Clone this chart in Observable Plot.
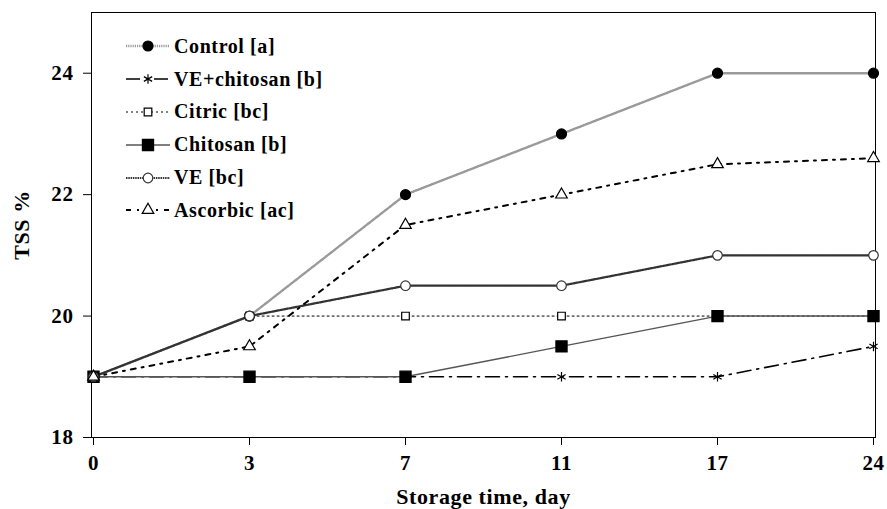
<!DOCTYPE html>
<html><head><meta charset="utf-8">
<script src="https://cdn.jsdelivr.net/npm/d3@7"></script>
<script src="https://cdn.jsdelivr.net/npm/@observablehq/plot@0.6"></script>
<style>
body{margin:0;background:#fff;}
#wrap{position:relative;width:887px;height:509px;font-family:"Liberation Serif","Times New Roman",serif;font-weight:bold;}
#legend{position:absolute;left:125px;top:30px;}
.row{height:32.8px;display:flex;align-items:center;font-size:20px;letter-spacing:0.6px;color:#000;}
.row svg{margin-right:3px;}
</style></head>
<body><div id="wrap"><div id="chart"></div><div id="legend"></div></div>
<script>
const days = ["0","3","7","11","17","24"];
const seriesNames = ["Control [a]","VE+chitosan [b]","Citric [bc]","Chitosan [b]","VE [bc]","Ascorbic [ac]"];
const control     = [19, 20, 22, 23, 24, 24];
const veChitosan  = [19, 19, 19, 19, 19, 19.5];
const citric      = [19, 20, 20, 20, 20, 20];
const chitosan    = [19, 19, 19, 19.5, 20, 20];
const ve          = [19, 20, 20.5, 20.5, 21, 21];
const ascorbic    = [19, 19.5, 21.5, 22, 22.5, 22.6];
const yTicks = [18, 20, 22, 24];

const values = [control, veChitosan, citric, chitosan, ve, ascorbic];
const styles = [
  {stroke:"#9a9a9a", sw:2.4, dash:"1.2,1", symbol:"circle", r:5, fill:"#000", mstroke:"#000"},
  {stroke:"#000", sw:1.6, dash:"14,6,2,6", symbol:"asterisk", r:4.5, fill:"none", mstroke:"#000"},
  {stroke:"#000", sw:1, dash:"2,3", symbol:"square", r:4.3, fill:"#fff", mstroke:"#000"},
  {stroke:"#555", sw:1.4, dash:null, symbol:"square", r:6.3, fill:"#000", mstroke:"#000"},
  {stroke:"#333", sw:2.2, dash:"1.5,0.8", symbol:"circle", r:4.8, fill:"#fff", mstroke:"#333"},
  {stroke:"#000", sw:2, dash:"5,6,2,6", symbol:"triangle", r:4.3, fill:"#fff", mstroke:"#000"}
];
const table = seriesNames.map((s,i)=>days.map((d,j)=>({series:s, day:d, v:values[i][j]})));

const marks = [Plot.frame({stroke:"#000"})];
table.forEach((rows,i)=>{
  const st = styles[i];
  marks.push(Plot.line(rows,{x:"day",y:"v",stroke:st.stroke,strokeWidth:st.sw,strokeDasharray:st.dash}));
});
table.forEach((rows,i)=>{
  const st = styles[i];
  marks.push(Plot.dot(rows,{x:"day",y:"v",symbol:()=>st.symbol,r:st.r,fill:st.fill,stroke:st.mstroke,strokeWidth:1.2}));
});
marks.push(Plot.axisY({ticks:yTicks, tickFormat:"d", tickSize:8, tickPadding:10, fontSize:21, label:"TSS %", labelAnchor:"center", labelArrow:"none", labelOffset:78}));
marks.push(Plot.axisX({tickSize:8, tickPadding:10, fontSize:21, label:"Storage time, day", labelAnchor:"center", labelArrow:"none", labelOffset:66}));

const chart = Plot.plot({
  width:887, height:509,
  marginLeft:91, marginRight:12, marginTop:12, marginBottom:72,
  style:{fontFamily:'"Liberation Serif","Times New Roman",serif', fontWeight:"bold", fontSize:"21px", color:"#000", background:"#fff", overflow:"visible"},
  x:{type:"point", domain:days, padding:0},
  y:{domain:[18,25]},
  marks
});
d3.select(chart).selectAll("text").style("letter-spacing","0.6px");
d3.select(chart).selectAll("[aria-label$='axis label'] text").style("font-size","22px");
document.getElementById("chart").appendChild(chart);

// legend
const leg = d3.select("#legend");
seriesNames.forEach((s,i)=>{
  const st = styles[i];
  const row = leg.append("div").attr("class","row");
  const svg = row.append("svg").attr("width",46).attr("height",20);
  svg.append("line").attr("x1",1).attr("x2",45).attr("y1",10).attr("y2",10)
    .attr("stroke",st.stroke).attr("stroke-width",st.sw).attr("stroke-dasharray",st.dash);
  const sym = {circle:d3.symbolCircle, asterisk:d3.symbolAsterisk, square:d3.symbolSquare, triangle:d3.symbolTriangle}[st.symbol];
  svg.append("path").attr("transform","translate(23,10)")
    .attr("d",d3.symbol(sym, Math.PI*st.r*st.r)())
    .attr("fill",st.fill).attr("stroke",st.mstroke).attr("stroke-width",1.2);
  row.append("span").text(s);
});
</script></body></html>
